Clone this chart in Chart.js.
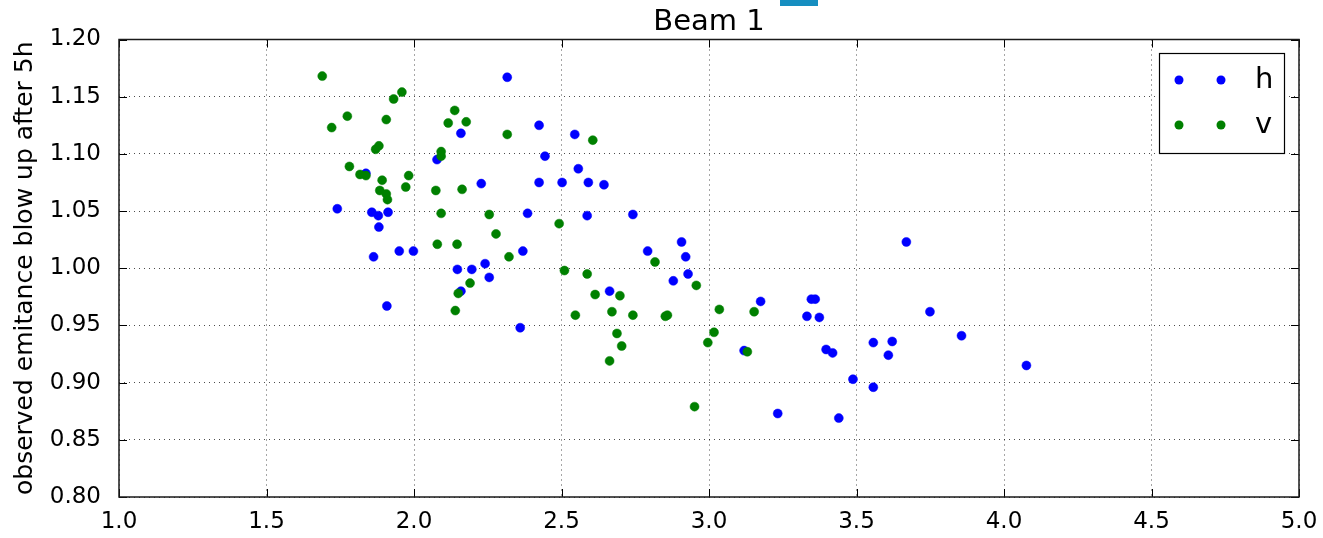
<!DOCTYPE html>
<html>
<head>
<meta charset="utf-8">
<script src="https://cdn.jsdelivr.net/npm/chart.js@4.4.0/dist/chart.umd.min.js"></script>
<style>
  body { margin: 0; background: #fff; }
  #wrap { position: relative; width: 1323px; height: 538px; }
  #marker { position: absolute; left: 780px; top: 0; width: 38px; height: 6px; background: #168ec0; }
</style>
</head>
<body>
<div id="wrap">
  <canvas id="myChart" width="1323" height="538"></canvas>
  <div id="marker"></div>
</div>
<script>
// Sample data
const hX = [1.740, 1.837, 1.857, 1.863, 1.879, 1.881, 1.912, 1.908, 1.950, 1.998,
            2.078, 2.159, 2.316, 2.228, 2.147, 2.196, 2.241, 2.255, 2.159, 2.385,
            2.369, 2.360, 2.424, 2.444, 2.424, 2.502, 2.545, 2.557, 2.591, 2.644,
            2.587, 2.742, 2.663, 2.792, 2.907, 2.921, 2.929, 2.879, 3.119, 3.175,
            3.233, 3.332, 3.347, 3.360, 3.374, 3.397, 3.419, 3.440, 3.488, 3.557,
            3.557, 3.608, 3.621, 3.669, 3.749, 3.856, 4.076];
const hY = [1.052, 1.083, 1.049, 1.010, 1.046, 1.036, 1.049, 0.967, 1.015, 1.015,
            1.095, 1.118, 1.167, 1.074, 0.999, 0.999, 1.004, 0.992, 0.980, 1.048,
            1.015, 0.948, 1.125, 1.098, 1.075, 1.075, 1.117, 1.087, 1.075, 1.073,
            1.046, 1.047, 0.980, 1.015, 1.023, 1.010, 0.995, 0.989, 0.928, 0.971,
            0.873, 0.958, 0.973, 0.973, 0.957, 0.929, 0.926, 0.869, 0.903, 0.935,
            0.896, 0.924, 0.936, 1.023, 0.962, 0.941, 0.915];

const vX = [1.689, 1.721, 1.774, 1.781, 1.817, 1.837, 1.870, 1.881, 1.906, 1.892,
            1.884, 1.906, 1.910, 1.931, 1.959, 1.972, 1.982, 2.074, 2.079, 2.092,
            2.092, 2.092, 2.116, 2.138, 2.177, 2.163, 2.146, 2.140, 2.150, 2.190,
            2.316, 2.255, 2.278, 2.322, 2.492, 2.510, 2.547, 2.587, 2.606, 2.614,
            2.671, 2.663, 2.688, 2.698, 2.704, 2.742, 2.817, 2.852, 2.859, 2.957,
            2.951, 2.996, 3.017, 3.035, 3.130, 3.153];
const vY = [1.168, 1.123, 1.133, 1.089, 1.082, 1.081, 1.104, 1.107, 1.130, 1.077,
            1.068, 1.065, 1.060, 1.148, 1.154, 1.071, 1.081, 1.068, 1.021, 1.102,
            1.098, 1.048, 1.127, 1.138, 1.128, 1.069, 1.021, 0.963, 0.978, 0.987,
            1.117, 1.047, 1.030, 1.010, 1.039, 0.998, 0.959, 0.995, 1.112, 0.977,
            0.962, 0.919, 0.943, 0.976, 0.932, 0.959, 1.0055, 0.958, 0.959, 0.985,
            0.879, 0.935, 0.944, 0.964, 0.927, 0.962];

const seriesLabels = ['h', 'v'];
const seriesColors = ['#0000ff', '#008000'];
const xTickStep = 0.5;
const yTickStep = 0.05;
const titleText = 'Beam 1';
const yAxisLabel = 'observed emitance blow up after 5h';

const FONT = '"DejaVu Sans", sans-serif';

function toPoints(xs, ys) {
  return xs.map((x, i) => ({ x: x, y: ys[i] }));
}

// Frame, inward ticks, title and legend, matplotlib style
const framePlugin = {
  id: 'frame',
  afterDraw(chart) {
    const ctx = chart.ctx;
    const a = chart.chartArea;
    const xs = chart.scales.x;
    const ys = chart.scales.y;
    ctx.save();
    // inward ticks on all four sides
    ctx.strokeStyle = '#000';
    ctx.lineWidth = 1;
    const tl = 8;
    xs.ticks.forEach((t) => {
      const px = Math.round(xs.getPixelForValue(t.value)) + 0.5;
      ctx.beginPath();
      ctx.moveTo(px, a.bottom); ctx.lineTo(px, a.bottom - tl);
      ctx.moveTo(px, a.top); ctx.lineTo(px, a.top + tl);
      ctx.stroke();
    });
    ys.ticks.forEach((t) => {
      const py = Math.round(ys.getPixelForValue(t.value)) + 0.5;
      ctx.beginPath();
      ctx.moveTo(a.left, py); ctx.lineTo(a.left + tl, py);
      ctx.moveTo(a.right, py); ctx.lineTo(a.right - tl, py);
      ctx.stroke();
    });
    // box
    ctx.lineWidth = 1.5;
    ctx.strokeStyle = '#1a1a1a';
    ctx.strokeRect(a.left, a.top, a.right - a.left, a.bottom - a.top);

    // title centred over the plot area
    ctx.fillStyle = '#000';
    ctx.font = '29px ' + FONT;
    ctx.textAlign = 'center';
    ctx.textBaseline = 'middle';
    ctx.fillText(titleText, (a.left + a.right) / 2, 22);

    // legend box with two markers per entry
    const lx = 1159, ly = 53, lw = 125, lh = 100;
    ctx.fillStyle = '#fff';
    ctx.fillRect(lx, ly, lw, lh);
    ctx.lineWidth = 1.2;
    ctx.strokeStyle = '#000';
    ctx.strokeRect(lx + 0.5, ly + 0.5, lw, lh);
    chart.data.datasets.forEach((ds, i) => {
      const rowY = ly + 27 + i * 45;
      ctx.fillStyle = ds.backgroundColor;
      [lx + 20, lx + 62].forEach((mx) => {
        ctx.beginPath();
        ctx.arc(mx, rowY, 4.5, 0, Math.PI * 2);
        ctx.fill();
      });
      ctx.fillStyle = '#000';
      ctx.font = '29px ' + FONT;
      ctx.textAlign = 'left';
      ctx.textBaseline = 'middle';
      ctx.fillText(ds.label, lx + 96, rowY);
    });
    ctx.restore();
  }
};

const gridStyle = {
  display: true,
  drawTicks: false,
  color: 'rgba(0,0,0,0.7)',
  lineWidth: 1
};

const ctx = document.getElementById('myChart').getContext('2d');
const myChart = new Chart(ctx, {
  type: 'scatter',
  data: {
    datasets: [
      {
        label: seriesLabels[0],
        data: toPoints(hX, hY),
        backgroundColor: seriesColors[0],
        borderColor: seriesColors[0],
        pointRadius: 4.5,
        pointBorderWidth: 0.5,
        order: 1
      },
      {
        label: seriesLabels[1],
        data: toPoints(vX, vY),
        backgroundColor: seriesColors[1],
        borderColor: seriesColors[1],
        pointRadius: 4.5,
        pointBorderWidth: 0.5,
        order: 0
      }
    ]
  },
  options: {
    responsive: false,
    animation: false,
    layout: { autoPadding: false, padding: { top: 39.5, right: 24, left: 0, bottom: 0 } },
    scales: {
      x: {
        type: 'linear',
        min: 1,
        max: 5,
        grid: gridStyle,
        border: { display: false, dash: [1, 4] },
        ticks: {
          stepSize: xTickStep,
          padding: 11,
          color: '#000',
          font: { family: FONT, size: 23 },
          callback: (v) => v.toFixed(1)
        },
        afterFit: (s) => {
          s.height = 41;
          s.paddingLeft = 0;
          s.paddingRight = 0;
        }
      },
      y: {
        type: 'linear',
        min: 0.8,
        max: 1.2,
        grid: gridStyle,
        border: { display: false, dash: [1, 4] },
        ticks: {
          stepSize: yTickStep,
          padding: 18,
          color: '#000',
          font: { family: FONT, size: 23 },
          callback: (v) => v.toFixed(2)
        },
        title: {
          display: true,
          text: yAxisLabel,
          color: '#000',
          font: { family: FONT, size: 25 },
          padding: { top: 10, bottom: 0 }
        },
        afterFit: (s) => {
          s.width = 119;
          s.paddingTop = 0;
          s.paddingBottom = 0;
        }
      }
    },
    plugins: {
      legend: { display: false },
      title: { display: false },
      tooltip: { enabled: false }
    }
  },
  plugins: [framePlugin]
});
</script>
</body>
</html>
